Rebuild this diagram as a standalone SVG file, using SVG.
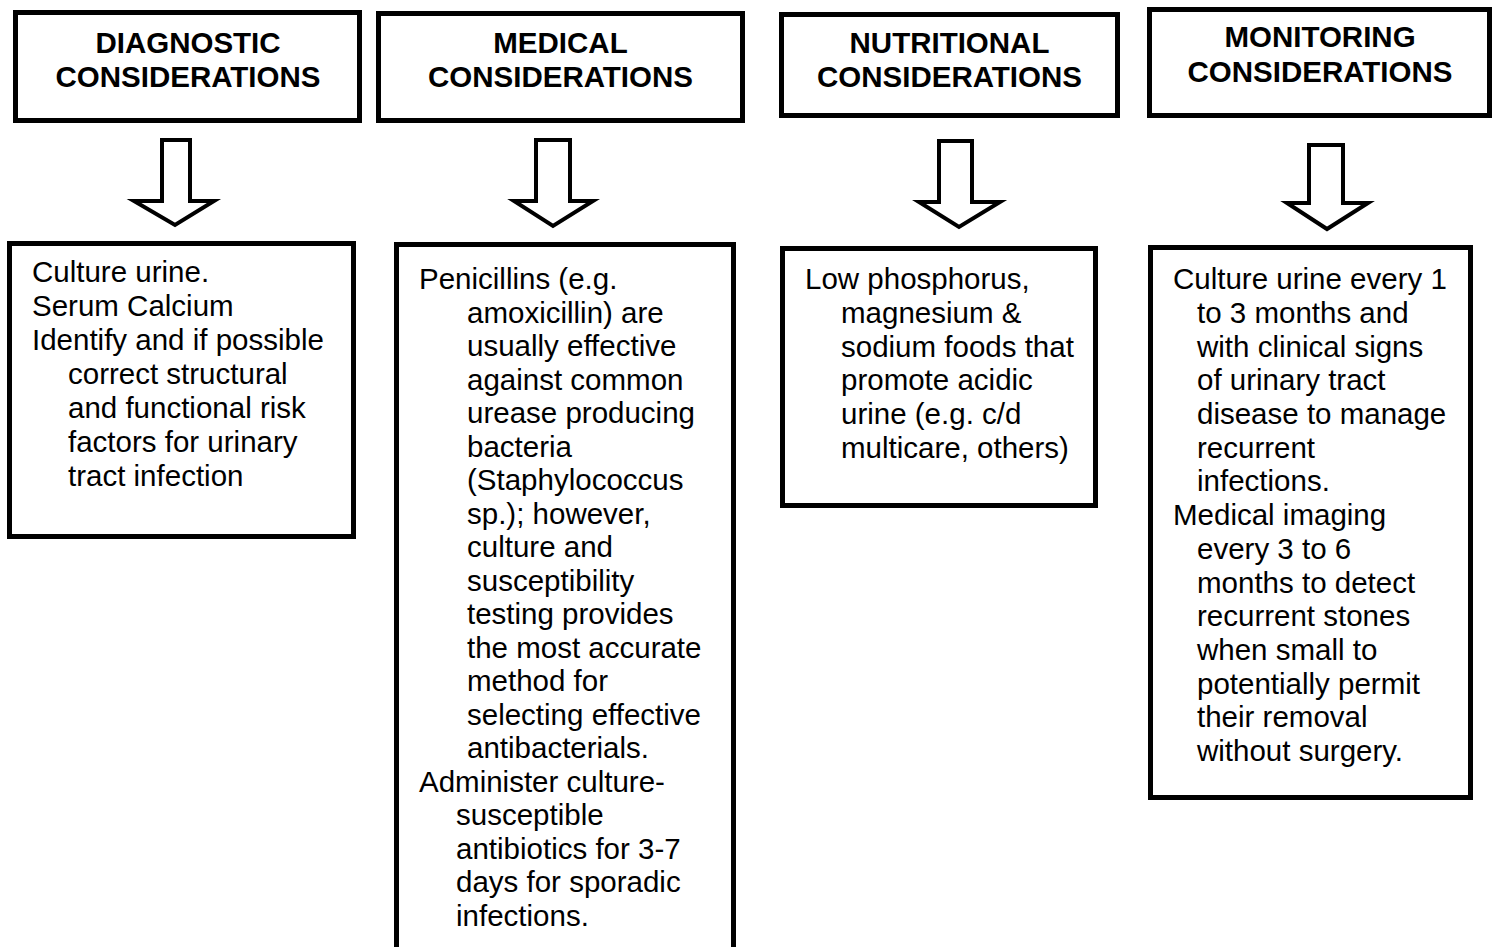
<svg xmlns="http://www.w3.org/2000/svg" width="1495" height="947" viewBox="0 0 1495 947">
<style>
.box{fill:#fff;stroke:#000;stroke-width:5}
.arr{fill:#fff;stroke:#000;stroke-width:4;stroke-linejoin:miter}
.h{font-family:"Liberation Sans",Arial,sans-serif;font-size:29.5px;font-weight:bold;text-anchor:middle;fill:#000}
.t{font-family:"Liberation Sans",Arial,sans-serif;font-size:29.5px;fill:#000}
</style>
<rect width="1495" height="947" fill="#fff"/>
<g id="connectors">
<path class="arr" d="M162,140 H190 V201 H214 L175,225 L134,201 H162 Z"/>
<path class="arr" d="M536,140 H570 V201 H593 L553,226 L514,201 H536 Z"/>
<path class="arr" d="M939,141 H972 V202 H1000 L959,227 L919,202 H939 Z"/>
<path class="arr" d="M1309,145 H1343 V203 H1368 L1327,229 L1287,203 H1309 Z"/>
</g>
<g id="h1"><rect class="box" x="15.5" y="12.5" width="344" height="108"/>
<text class="h" x="188" y="53">DIAGNOSTIC</text><text class="h" x="188" y="87">CONSIDERATIONS</text></g>
<g id="h2"><rect class="box" x="378.5" y="13.5" width="364" height="107"/>
<text class="h" x="560.5" y="53">MEDICAL</text><text class="h" x="560.5" y="87">CONSIDERATIONS</text></g>
<g id="h3"><rect class="box" x="781.5" y="14.5" width="336" height="101"/>
<text class="h" x="949.5" y="53">NUTRITIONAL</text><text class="h" x="949.5" y="87">CONSIDERATIONS</text></g>
<g id="h4"><rect class="box" x="1149.5" y="9.5" width="340" height="106"/>
<text class="h" x="1320" y="47">MONITORING</text><text class="h" x="1320" y="82">CONSIDERATIONS</text></g>
<g id="b1"><rect class="box" x="9.5" y="243.5" width="344" height="293"/>
<text class="t">
<tspan x="32" y="282">Culture urine.</tspan>
<tspan x="32" y="316">Serum Calcium</tspan>
<tspan x="32" y="350">Identify and if possible</tspan>
<tspan x="68" y="384">correct structural</tspan>
<tspan x="68" y="418">and functional risk</tspan>
<tspan x="68" y="452">factors for urinary</tspan>
<tspan x="68" y="486">tract infection</tspan>
</text></g>
<g id="b2"><rect class="box" x="396.5" y="244.5" width="337" height="720"/>
<text class="t">
<tspan x="419" y="289">Penicillins (e.g.</tspan>
<tspan x="467" y="322.5">amoxicillin) are</tspan>
<tspan x="467" y="356">usually effective</tspan>
<tspan x="467" y="389.5">against common</tspan>
<tspan x="467" y="423">urease producing</tspan>
<tspan x="467" y="456.5">bacteria</tspan>
<tspan x="467" y="490">(Staphylococcus</tspan>
<tspan x="467" y="523.5">sp.); however,</tspan>
<tspan x="467" y="557">culture and</tspan>
<tspan x="467" y="590.5">susceptibility</tspan>
<tspan x="467" y="624">testing provides</tspan>
<tspan x="467" y="657.5">the most accurate</tspan>
<tspan x="467" y="691">method for</tspan>
<tspan x="467" y="724.5">selecting effective</tspan>
<tspan x="467" y="758">antibacterials.</tspan>
<tspan x="419" y="791.5">Administer culture-</tspan>
<tspan x="456" y="825">susceptible</tspan>
<tspan x="456" y="858.5">antibiotics for 3-7</tspan>
<tspan x="456" y="892">days for sporadic</tspan>
<tspan x="456" y="925.5">infections.</tspan>
</text></g>
<g id="b3"><rect class="box" x="782.5" y="248.5" width="313" height="257"/>
<text class="t">
<tspan x="805" y="289">Low phosphorus,</tspan>
<tspan x="841" y="323">magnesium &amp;</tspan>
<tspan x="841" y="357">sodium foods that</tspan>
<tspan x="841" y="390">promote acidic</tspan>
<tspan x="841" y="424">urine (e.g. c/d</tspan>
<tspan x="841" y="458">multicare, others)</tspan>
</text></g>
<g id="b4"><rect class="box" x="1150.5" y="247.5" width="320" height="550"/>
<text class="t">
<tspan x="1173" y="289">Culture urine every 1</tspan>
<tspan x="1197" y="323">to 3 months and</tspan>
<tspan x="1197" y="357">with clinical signs</tspan>
<tspan x="1197" y="390">of urinary tract</tspan>
<tspan x="1197" y="424">disease to manage</tspan>
<tspan x="1197" y="458">recurrent</tspan>
<tspan x="1197" y="491">infections.</tspan>
<tspan x="1173" y="525">Medical imaging</tspan>
<tspan x="1197" y="559">every 3 to 6</tspan>
<tspan x="1197" y="593">months to detect</tspan>
<tspan x="1197" y="626">recurrent stones</tspan>
<tspan x="1197" y="660">when small to</tspan>
<tspan x="1197" y="694">potentially permit</tspan>
<tspan x="1197" y="727">their removal</tspan>
<tspan x="1197" y="761">without surgery.</tspan>
</text></g>
</svg>
